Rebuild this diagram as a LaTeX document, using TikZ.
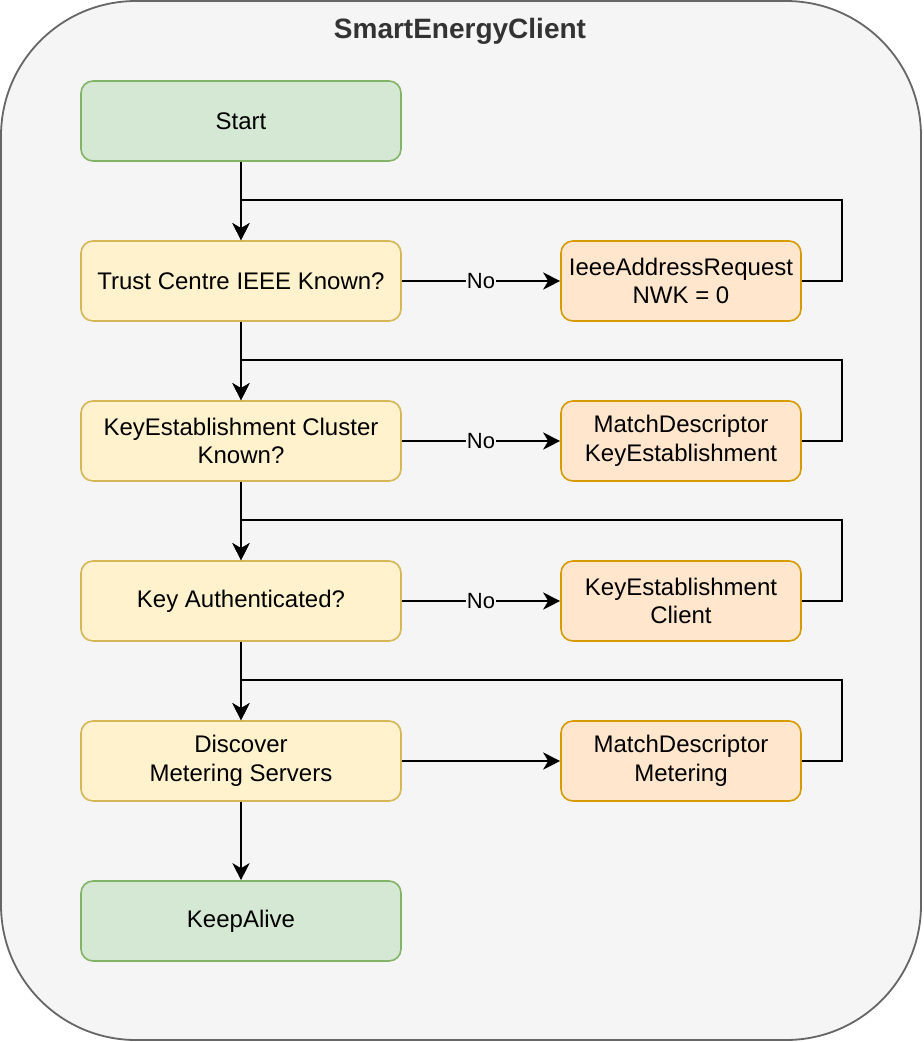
\documentclass[tikz,border=0pt]{standalone}
\usepackage{fontspec}
\setmainfont{Liberation Sans}
\usetikzlibrary{arrows.meta,calc}
\definecolor{outerfill}{HTML}{F5F5F5}
\definecolor{outerdraw}{HTML}{666666}
\definecolor{greenfill}{HTML}{D5E8D4}
\definecolor{greendraw}{HTML}{82B366}
\definecolor{yellowfill}{HTML}{FFF2CC}
\definecolor{yellowdraw}{HTML}{D6B656}
\definecolor{orangefill}{HTML}{FFE6CC}
\definecolor{orangedraw}{HTML}{D79B00}
\definecolor{titlecol}{HTML}{333333}
\tikzset{
  basebox/.style={rectangle, rounded corners=12pt, line width=1.6pt, align=center,
    font=\fontsize{24}{28.8}\selectfont, inner sep=0pt},
  leftbox/.style={basebox, minimum width=320pt, minimum height=80pt},
  rightbox/.style={basebox, minimum width=240pt, minimum height=80pt},
  termbox/.style={leftbox, fill=greenfill, draw=greendraw},
  decbox/.style={leftbox, fill=yellowfill, draw=yellowdraw},
  actbox/.style={rightbox, fill=orangefill, draw=orangedraw},
  conn/.style={line width=2pt, draw=black, -{Stealth[length=17pt,width=17pt,inset=5pt]}},
  nolabel/.style={fill=outerfill, inner xsep=0.5pt, inner ysep=1pt, font=\fontsize{22}{26}\selectfont}
}
\begin{document}
\begin{tikzpicture}[x=1pt,y=-1pt]
\useasboundingbox (0,0) rectangle (924,1042);
\draw[fill=outerfill, draw=outerdraw, line width=1.8pt, rounded corners=135pt] (1,1) rectangle (921,1040);
\node[font=\bfseries\fontsize{28}{32}\selectfont, text=titlecol] (title) at (460,31) {SmartEnergyClient};

\node[termbox] (start) at (241,121) {Start};
\node[decbox] (trust) at (241,281) {Trust Centre IEEE Known?};
\node[decbox] (kec) at (241,441) {KeyEstablishment Cluster\\Known?};
\node[decbox] (kauth) at (241,601) {Key Authenticated?};
\node[decbox] (disc) at (241,761) {Discover\\Metering Servers};
\node[termbox] (keep) at (241,921) {KeepAlive};

\node[actbox] (ieee) at (681,281) {IeeeAddressRequest\\NWK = 0};
\node[actbox] (mdke) at (681,441) {MatchDescriptor\\KeyEstablishment};
\node[actbox] (kecl) at (681,601) {KeyEstablishment\\Client};
\node[actbox] (mdm) at (681,761) {MatchDescriptor\\Metering};

% vertical main flow
\draw[conn] (start) -- (trust);
\draw[conn] (trust) -- (kec);
\draw[conn] (kec) -- (kauth);
\draw[conn] (kauth) -- (disc);
\draw[conn] (disc) -- (keep);

% horizontal
\draw[conn] (trust) -- node[nolabel] {No} (ieee);
\draw[conn] (kec) -- node[nolabel] {No} (mdke);
\draw[conn] (kauth) -- node[nolabel] {No} (kecl);
\draw[conn] (disc) -- (mdm);

% loops back
\coordinate (r1) at ($(ieee.east)+(40,0)$);
\coordinate (t1) at ($(trust.north)+(0,-40)$);
\coordinate (r2) at ($(mdke.east)+(40,0)$);
\coordinate (t2) at ($(kec.north)+(0,-40)$);
\coordinate (r3) at ($(kecl.east)+(40,0)$);
\coordinate (t3) at ($(kauth.north)+(0,-40)$);
\coordinate (r4) at ($(mdm.east)+(40,0)$);
\coordinate (t4) at ($(disc.north)+(0,-40)$);
\draw[conn, line join=miter] (ieee.east) -- (r1) |- (t1) -- (trust.north);
\draw[conn, line join=miter] (mdke.east) -- (r2) |- (t2) -- (kec.north);
\draw[conn, line join=miter] (kecl.east) -- (r3) |- (t3) -- (kauth.north);
\draw[conn, line join=miter] (mdm.east) -- (r4) |- (t4) -- (disc.north);
\end{tikzpicture}
\end{document}
